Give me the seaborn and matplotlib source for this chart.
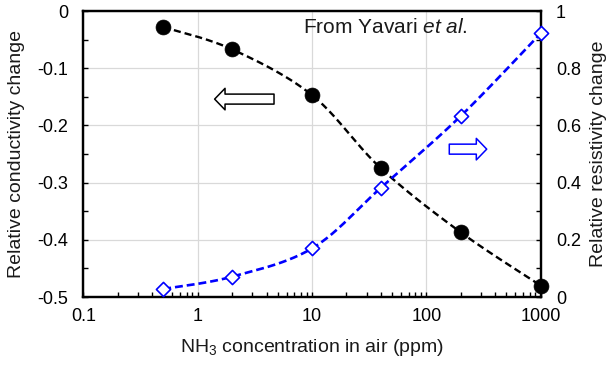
import numpy as np
import pandas as pd
import matplotlib
matplotlib.use("Agg")
import matplotlib.pyplot as plt
import seaborn as sns
from matplotlib.ticker import FixedLocator, FixedFormatter, LogLocator, NullFormatter, MultipleLocator
from matplotlib.patches import FancyArrowPatch

# ---- data ----
conc = [0.5, 2, 10, 40, 200, 1000]
conductivity = [-0.028, -0.067, -0.147, -0.275, -0.387, -0.480]
resistivity = [0.028, 0.071, 0.170, 0.382, 0.633, 0.922]

x_ticks = [0.1, 1, 10, 100, 1000]
x_ticklabels = ["0.1", "1", "10", "100", "1000"]
left_ticks = [0, -0.1, -0.2, -0.3, -0.4, -0.5]
left_ticklabels = ["0", "-0.1", "-0.2", "-0.3", "-0.4", "-0.5"]
right_ticks = [0, 0.2, 0.4, 0.6, 0.8, 1.0]
right_ticklabels = ["0", "0.2", "0.4", "0.6", "0.8", "1"]

xlabel = "NH$_3$ concentration in air (ppm)"
ylabel_left = "Relative conductivity change"
ylabel_right = "Relative resistivity change"
note = "From Yavari $\\mathit{et\\ al}$."

sns.set_theme(style="white")
plt.rcParams["font.family"] = ["Liberation Sans", "DejaVu Sans"]
plt.rcParams["mathtext.fontset"] = "custom"
plt.rcParams["mathtext.rm"] = "Liberation Sans"
plt.rcParams["mathtext.it"] = "Liberation Sans:italic"
plt.rcParams["axes.unicode_minus"] = False

FS_TICK = 13
FS_LABEL = 14
FS_NOTE = 15


def smooth(x, y, n=40):
    """Excel-like smoothed line through the data points (Bezier in log-x space)."""
    P = np.column_stack([np.log10(x), np.asarray(y, float)])
    Pe = np.vstack([P[0], P, P[-1]])
    t = np.linspace(0, 1, n)[:, None]
    parts = []
    for i in range(len(P) - 1):
        p0, p1, p2, p3 = Pe[i], Pe[i + 1], Pe[i + 2], Pe[i + 3]
        c1 = p1 + (p2 - p0) / 6
        c2 = p2 - (p3 - p1) / 6
        seg = (1 - t) ** 3 * p1 + 3 * (1 - t) ** 2 * t * c1 + 3 * (1 - t) * t ** 2 * c2 + t ** 3 * p2
        parts.append(seg if i == 0 else seg[1:])
    s = np.vstack(parts)
    return pd.DataFrame({"x": 10 ** s[:, 0], "y": s[:, 1]})


df = pd.DataFrame({"conc": conc, "cond": conductivity, "res": resistivity})

fig = plt.figure(figsize=(6.09, 3.67), dpi=100)
ax = fig.add_axes([0.1368, 0.1907, 0.7511, 0.7793])
ax2 = ax.twinx()

# conductivity (left axis)
sc = smooth(conc, conductivity)
sns.lineplot(data=sc, x="x", y="y", ax=ax, estimator=None, sort=False,
             color="black", lw=1.7, linestyle="--")
ax.lines[-1].set_dashes((3.0, 1.7))
sns.scatterplot(data=df, x="conc", y="cond", ax=ax, marker="o", s=115,
                color="black", edgecolor="black", linewidth=0.5, zorder=5,
                clip_on=False)

# resistivity (right axis)
sr = smooth(conc, resistivity)
sns.lineplot(data=sr, x="x", y="y", ax=ax2, estimator=None, sort=False,
             color="#0000ff", lw=1.9, linestyle="--")
ax2.lines[-1].set_dashes((3.0, 1.5))
sns.scatterplot(data=df, x="conc", y="res", ax=ax2, marker="D", s=52,
                facecolor="white", edgecolor="#0000ff", linewidth=1.2, zorder=5,
                clip_on=False)

ax.set_xscale("log")
ax.set_xlim(0.1, 1000)
ax.set_ylim(-0.5, 0)
ax2.set_ylim(0, 1)

ax.xaxis.set_major_locator(FixedLocator(x_ticks))
ax.xaxis.set_major_formatter(FixedFormatter(x_ticklabels))
ax.xaxis.set_minor_locator(LogLocator(base=10, subs=np.arange(2, 10)))
ax.xaxis.set_minor_formatter(NullFormatter())
ax.yaxis.set_major_locator(FixedLocator(left_ticks))
ax.yaxis.set_major_formatter(FixedFormatter(left_ticklabels))
ax.yaxis.set_minor_locator(MultipleLocator(0.05))
ax2.yaxis.set_major_locator(FixedLocator(right_ticks))
ax2.yaxis.set_major_formatter(FixedFormatter(right_ticklabels))
ax2.yaxis.set_minor_locator(MultipleLocator(0.1))

ax.set_axisbelow(True)
ax.grid(True, which="major", color="#d9d9d9", lw=0.9)
ax2.grid(False)

ax.tick_params(axis="both", which="both", direction="in", length=3.6, width=1.0,
               color="black", labelsize=FS_TICK, labelcolor="black",
               top=False, right=False, bottom=True, left=True)
ax.tick_params(axis="y", which="both", pad=11)
ax.tick_params(axis="x", which="both", pad=8)
ax2.tick_params(axis="y", which="both", direction="in", length=3.6, width=1.0,
                color="black", labelsize=FS_TICK, labelcolor="black", pad=11,
                left=False, right=True)

for a in (ax, ax2):
    for sp in a.spines.values():
        sp.set_color("black")
        sp.set_linewidth(1.6)
        sp.set_visible(True)

ax.set_xlabel(xlabel, fontsize=FS_LABEL, color="#1a1a1a")
ax.set_ylabel(ylabel_left, fontsize=FS_LABEL, color="#1a1a1a")
ax2.set_ylabel(ylabel_right, fontsize=FS_LABEL, color="#1a1a1a")
ax.xaxis.set_label_coords(0.5, -0.14)
ax.yaxis.set_label_coords(-0.127, 0.5)
ax2.yaxis.set_label_coords(1.107, 0.5)

ax.text(0.480, 0.942, note, transform=ax.transAxes, fontsize=FS_NOTE,
        ha="left", va="center", color="#1a1a1a")

# direction arrows
style = "simple,head_length=0.75,head_width=1.55,tail_width=0.72"
ax.add_patch(FancyArrowPatch((0.423, 0.692), (0.281, 0.692), transform=ax.transAxes,
                             arrowstyle=style, mutation_scale=10, fc="white",
                             ec="black", lw=1.1, zorder=6))
ax2.add_patch(FancyArrowPatch((0.794, 0.517), (0.888, 0.517), transform=ax2.transAxes,
                              arrowstyle=style, mutation_scale=10, fc="white",
                              ec="#0000ff", lw=1.1, zorder=6))

fig.savefig("out.png", dpi=100)
